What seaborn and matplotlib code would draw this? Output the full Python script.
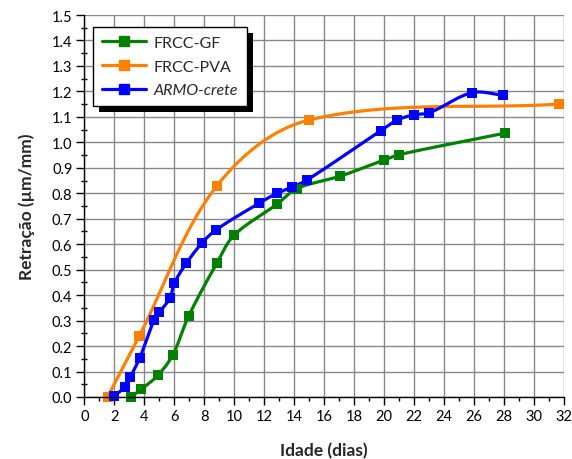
import numpy as np
import pandas as pd
import matplotlib
matplotlib.use("Agg")
import matplotlib.pyplot as plt
import seaborn as sns
from matplotlib.lines import Line2D
from matplotlib.patches import Rectangle
from matplotlib.ticker import MultipleLocator, FormatStrFormatter

# Measured shrinkage (µm/mm) against age (days)
gf_days = [3.1, 3.8, 4.9, 5.9, 6.95, 8.85, 10.0, 12.85, 14.15, 17.05, 19.95, 21.0, 28.05]
gf_vals = [0.00, 0.03, 0.085, 0.165, 0.317, 0.527, 0.636, 0.757, 0.818, 0.867, 0.930, 0.952, 1.036]

pva_days = [1.55, 3.65, 8.85, 15.0, 31.65]
pva_vals = [0.00, 0.238, 0.830, 1.088, 1.150]

armo_days = [2.0, 2.7, 3.05, 3.7, 4.65, 5.0, 5.7, 6.0, 6.8, 7.85, 8.8, 11.65, 12.85,
             13.85, 14.85, 19.75, 20.85, 21.95, 23.0, 25.85, 27.9]
armo_vals = [0.003, 0.040, 0.077, 0.154, 0.302, 0.332, 0.387, 0.447, 0.525, 0.605, 0.657,
             0.761, 0.800, 0.824, 0.852, 1.045, 1.087, 1.108, 1.116, 1.195, 1.185]

series_names = ["FRCC-GF", "FRCC-PVA", "ARMO-crete"]
series_colors = ["#008000", "#FF8000", "#0000FF"]

x_ticks = list(range(0, 33, 2))

# approximate screen scale (px per day, px per µm/mm) used for the curve smoothing
SX, SY = 15.0, 254.7


def smooth(xs, ys, n=30):
    """Cubic Bezier smoothing through every point, tangents scaled by chord length."""
    p = np.column_stack([np.asarray(xs) * SX, np.asarray(ys) * SY]).astype(float)
    q = np.vstack([p[0], p, p[-1]])
    out = []
    t = np.linspace(0, 1, n)[:, None]
    for i in range(1, len(q) - 2):
        p0, p1, p2, p3 = q[i - 1], q[i], q[i + 1], q[i + 2]
        chord = np.linalg.norm(p2 - p1) / 3.0
        d1 = p2 - p0
        d2 = p3 - p1
        d1 = d1 / np.linalg.norm(d1)
        d2 = d2 / np.linalg.norm(d2)
        b1 = p1 + d1 * chord
        b2 = p2 - d2 * chord
        seg = ((1 - t) ** 3) * p1 + 3 * ((1 - t) ** 2) * t * b1 + 3 * (1 - t) * t ** 2 * b2 + t ** 3 * p2
        out.append(seg if i == 1 else seg[1:])
    c = np.vstack(out)
    return c[:, 0] / SX, c[:, 1] / SY


sns.set_theme(style="white")
plt.rcParams["font.family"] = ["Lato", "DejaVu Sans"]

fig = plt.figure(figsize=(5.72, 4.60), dpi=100)
ax = fig.add_axes([84.3 / 572, 1 - 398 / 460, 480 / 572, 382 / 460])

data = [(gf_days, gf_vals), (pva_days, pva_vals), (armo_days, armo_vals)]
for (xs, ys), name, col in zip(data, series_names, series_colors):
    sx, sy = smooth(xs, ys)
    curve = pd.DataFrame({"x": sx, "y": sy})
    pts = pd.DataFrame({"x": xs, "y": ys})
    sns.lineplot(data=curve, x="x", y="y", sort=False, color=col, lw=2.3, ax=ax, zorder=3)
    sns.scatterplot(data=pts, x="x", y="y", marker="s", s=50, color=col, edgecolor=col,
                    linewidth=0, ax=ax, zorder=4, clip_on=False)

ax.set_xlim(0, 32)
ax.set_ylim(0, 1.5)
ax.set_xticks(x_ticks)
ax.xaxis.set_minor_locator(MultipleLocator(1))
ax.yaxis.set_major_locator(MultipleLocator(0.1))
ax.yaxis.set_minor_locator(MultipleLocator(0.05))
ax.yaxis.set_major_formatter(FormatStrFormatter("%.1f"))

ax.grid(True, which="major", color="#888888", lw=1.0)
ax.set_axisbelow(True)
for side in ["top", "right"]:
    ax.spines[side].set_visible(False)
for side in ["left", "bottom"]:
    ax.spines[side].set_color("black")
    ax.spines[side].set_linewidth(1.0)
    ax.spines[side].set_zorder(5)

ax.tick_params(which="major", direction="out", length=5.5, width=1, color="black",
               labelsize=10.5, labelcolor="black", left=True, bottom=True, pad=3)
ax.tick_params(which="minor", direction="inout", length=4, width=1, color="black",
               left=True, bottom=True)
ax.tick_params(axis="x", which="minor", direction="out", length=3)

ax.set_xlabel("Idade (dias)", fontsize=12.5, fontweight="bold", labelpad=14)
ax.set_ylabel("Retração (µm/mm)", fontsize=12.5, fontweight="bold", labelpad=12)

handles = [Line2D([0], [0], color=c, lw=2.3, marker="s", markersize=7.5) for c in series_colors]
leg = ax.legend(handles, series_names, loc="upper left", bbox_to_anchor=(0.018, 0.969),
                fontsize=11.5, frameon=True, fancybox=False, edgecolor="black",
                framealpha=1, borderpad=0.55, handlelength=2.8, labelspacing=0.6,
                handletextpad=0.45, borderaxespad=0)
leg.get_frame().set_linewidth(1.0)
leg.get_texts()[2].set_fontstyle("italic")

# Solid drop shadow behind the legend box
fig.canvas.draw()
bb = leg.get_window_extent()
shadow = Rectangle((bb.x0 + 6, bb.y0 - 6), bb.width, bb.height, transform=None,
                   facecolor="black", edgecolor="none", zorder=9)
shadow.set_figure(fig)
fig.patches.append(shadow)
leg.remove()
fig.add_artist(leg)
leg.set_zorder(10)

fig.savefig("out.png", dpi=100, facecolor="white")
